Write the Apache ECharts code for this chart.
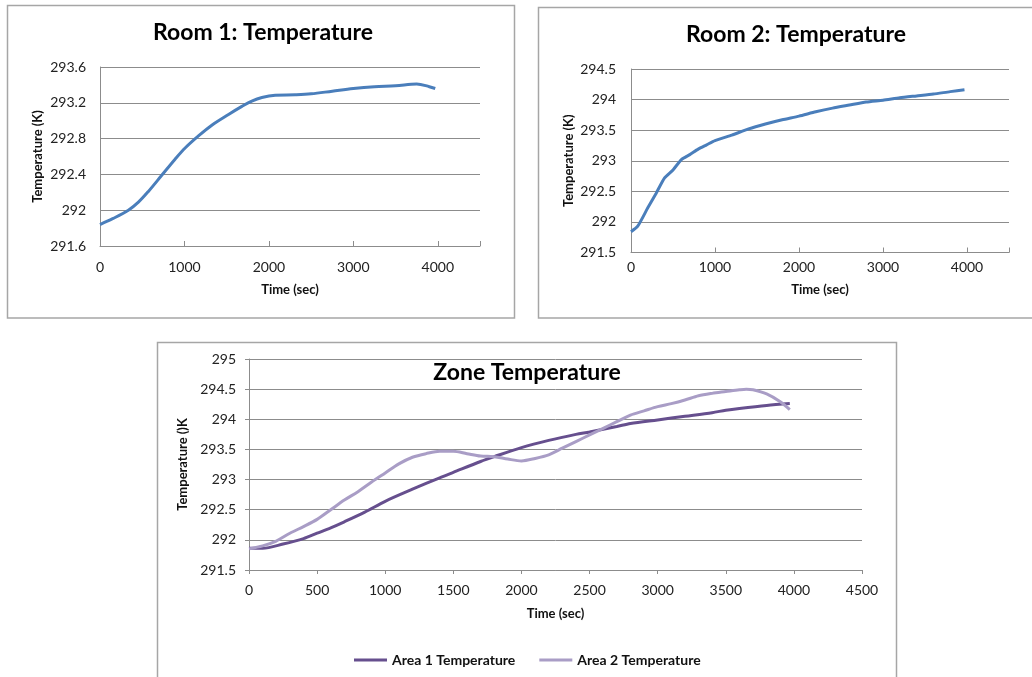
<!DOCTYPE html>
<html><head><meta charset="utf-8">
<script src="https://cdn.jsdelivr.net/npm/echarts@6/dist/echarts.min.js"></script>
<style>html,body{margin:0;padding:0;background:#fff}#c{width:1032px;height:677px}</style>
</head><body><div id="c"></div>
<script>
// ---- data ----
const room1Time = [0, 150, 336, 455, 573, 731, 889, 1008, 1166, 1324, 1522, 1680, 1798, 1917, 2075, 2312, 2500, 2750, 3000, 3250, 3500, 3750, 3900, 3970];
const room1Temp = [291.84, 291.905, 292.00, 292.09, 292.21, 292.39, 292.57, 292.695, 292.83, 292.95, 293.07, 293.16, 293.22, 293.26, 293.285, 293.29, 293.30, 293.33, 293.36, 293.38, 293.39, 293.41, 293.38, 293.36];

const room2Time = [0, 80, 200, 300, 400, 500, 600, 700, 800, 900, 1000, 1200, 1400, 1600, 1800, 2000, 2200, 2400, 2600, 2800, 3000, 3200, 3400, 3600, 3800, 3970];
const room2Temp = [291.84, 291.93, 292.23, 292.47, 292.72, 292.85, 293.02, 293.10, 293.19, 293.26, 293.33, 293.42, 293.52, 293.60, 293.67, 293.73, 293.80, 293.86, 293.91, 293.96, 293.99, 294.03, 294.06, 294.09, 294.13, 294.16];

const area1Time = [0, 100, 250, 400, 500, 600, 700, 850, 1000, 1200, 1400, 1500, 1700, 1800, 2000, 2200, 2400, 2500, 2700, 2800, 3000, 3200, 3400, 3500, 3600, 3800, 3970];
const area1Temp = [291.86, 291.86, 291.93, 292.02, 292.11, 292.20, 292.30, 292.46, 292.64, 292.84, 293.03, 293.12, 293.30, 293.38, 293.53, 293.65, 293.75, 293.79, 293.88, 293.93, 293.99, 294.05, 294.11, 294.15, 294.18, 294.23, 294.26];

const area2Time = [0, 100, 200, 300, 400, 500, 600, 700, 800, 900, 1000, 1100, 1200, 1300, 1400, 1500, 1600, 1700, 1800, 1900, 2000, 2100, 2200, 2300, 2400, 2500, 2600, 2700, 2800, 2900, 3000, 3100, 3200, 3300, 3400, 3500, 3600, 3650, 3700, 3800, 3900, 3970];
const area2Temp = [291.85, 291.90, 291.98, 292.11, 292.22, 292.34, 292.50, 292.66, 292.80, 292.96, 293.11, 293.26, 293.37, 293.43, 293.47, 293.47, 293.43, 293.39, 293.38, 293.34, 293.31, 293.35, 293.41, 293.52, 293.63, 293.74, 293.85, 293.96, 294.07, 294.14, 294.21, 294.26, 294.32, 294.39, 294.43, 294.46, 294.49, 294.50, 294.49, 294.42, 294.29, 294.16];

const titles = ['Room 1: Temperature', 'Room 2: Temperature', 'Zone Temperature'];
const seriesNames = ['Area 1 Temperature', 'Area 2 Temperature'];
const xName = 'Time (sec)';
const yNames = ['Temperature (K)', 'Temperature (K)', 'Temperature ()K'];

// ---- chart ----
const FONT = 'Lato, "Open Sans", sans-serif';
const GRIDC = '#8c8c8c';
const LBL = 14;
const pairs = (xs, ys) => xs.map((x, i) => [x, ys[i]]);
const yFmt = v => String(+(+v).toFixed(1));
const nameStyle = { fontFamily: FONT, fontWeight: 'bold', fontSize: 13, color: '#111' };
const lbl = (margin, fmt) => ({ fontFamily: FONT, fontSize: LBL, color: '#222', margin: margin, formatter: fmt });
const hide4500 = v => v > 4000 ? '' : String(v);

function xAxis(gi, opts) {
  return Object.assign({
    type: 'value', gridIndex: gi, min: 0, max: 4500, interval: 1000,
    name: xName, nameLocation: 'middle', nameTextStyle: nameStyle,
    axisLine: { show: true, lineStyle: { color: GRIDC, width: 1 } },
    axisTick: { show: true, inside: true, length: 5, lineStyle: { color: GRIDC } },
    splitLine: { show: false }
  }, opts);
}
function yAxis(gi, opts) {
  return Object.assign({
    type: 'value', gridIndex: gi,
    nameLocation: 'middle', nameRotate: 90, nameTextStyle: nameStyle,
    axisLine: { show: true, lineStyle: { color: GRIDC, width: 1 } },
    axisTick: { show: false },
    splitLine: { show: true, lineStyle: { color: GRIDC, width: 1 } }
  }, opts);
}
const titleText = (x, y, t) => ({ type: 'text', x: x, y: y,
  style: { text: t, align: 'center', verticalAlign: 'middle', textAlign: 'center', textVerticalAlign: 'middle', font: 'bold 23px ' + FONT, fill: '#000' } });

const chart = echarts.init(document.getElementById('c'), null, { renderer: 'canvas' });
chart.setOption({
  animation: false,
  backgroundColor: '#fff',
  graphic: [
    { type: 'rect', shape: { x: 7.5, y: 5.5, width: 507, height: 312.5 }, style: { fill: 'none', stroke: '#a6a6a6', lineWidth: 1.5 }, z: -1 },
    { type: 'rect', shape: { x: 538.5, y: 7.5, width: 520, height: 310.5 }, style: { fill: 'none', stroke: '#a6a6a6', lineWidth: 1.5 }, z: -1 },
    { type: 'rect', shape: { x: 157.5, y: 342.5, width: 739, height: 360 }, style: { fill: 'none', stroke: '#a6a6a6', lineWidth: 1.5 }, z: -1 },
    titleText(263, 33, titles[0]),
    titleText(796, 35, titles[1]),
    titleText(527, 373, titles[2])
  ],
  grid: [
    { left: 100, top: 67, width: 380, height: 179, containLabel: false, outerBoundsMode: 'none' },
    { left: 631, top: 69, width: 378, height: 183.5, containLabel: false, outerBoundsMode: 'none' },
    { left: 249, top: 359, width: 613, height: 211, containLabel: false, outerBoundsMode: 'none' }
  ],
  xAxis: [
    xAxis(0, { nameGap: 37, axisLabel: lbl(14, hide4500) }),
    xAxis(1, { nameGap: 31, axisLabel: lbl(8, hide4500) }),
    xAxis(2, { interval: 500, nameGap: 37,
      axisTick: { show: true, inside: false, length: 4, lineStyle: { color: GRIDC } },
      axisLabel: lbl(13, v => String(v)) })
  ],
  yAxis: [
    yAxis(0, { min: 291.6, max: 293.6, interval: 0.4, name: yNames[0], nameGap: 56, axisLabel: lbl(14, yFmt) }),
    yAxis(1, { min: 291.5, max: 294.5, interval: 0.5, name: yNames[1], nameGap: 56, axisLabel: lbl(15, yFmt) }),
    yAxis(2, { min: 291.5, max: 295, interval: 0.5, name: yNames[2], nameGap: 55,
      axisTick: { show: true, inside: false, length: 4, lineStyle: { color: GRIDC } },
      axisLabel: lbl(13, yFmt) })
  ],
  legend: {
    data: seriesNames,
    left: 349, top: 648,
    icon: 'rect', itemWidth: 33, itemHeight: 3, itemGap: 24,
    textStyle: { fontFamily: FONT, fontWeight: 'bold', fontSize: 14, color: '#111' }
  },
  series: [
    { type: 'line', name: 'Room 1', xAxisIndex: 0, yAxisIndex: 0, data: pairs(room1Time, room1Temp),
      smooth: 0.35, showSymbol: false, symbol: 'none', lineStyle: { color: '#4a7ebb', width: 3 }, itemStyle: { color: '#4a7ebb' } },
    { type: 'line', name: 'Room 2', xAxisIndex: 1, yAxisIndex: 1, data: pairs(room2Time, room2Temp),
      smooth: 0.2, showSymbol: false, symbol: 'none', lineStyle: { color: '#4a7ebb', width: 3 }, itemStyle: { color: '#4a7ebb' } },
    { type: 'line', name: seriesNames[0], xAxisIndex: 2, yAxisIndex: 2, data: pairs(area1Time, area1Temp),
      smooth: 0.3, showSymbol: false, symbol: 'none', lineStyle: { color: '#664f8e', width: 3 }, itemStyle: { color: '#664f8e' } },
    { type: 'line', name: seriesNames[1], xAxisIndex: 2, yAxisIndex: 2, data: pairs(area2Time, area2Temp),
      smooth: 0.3, showSymbol: false, symbol: 'none', lineStyle: { color: '#a99dc6', width: 3 }, itemStyle: { color: '#a99dc6' } }
  ]
});
</script>
</body></html>
